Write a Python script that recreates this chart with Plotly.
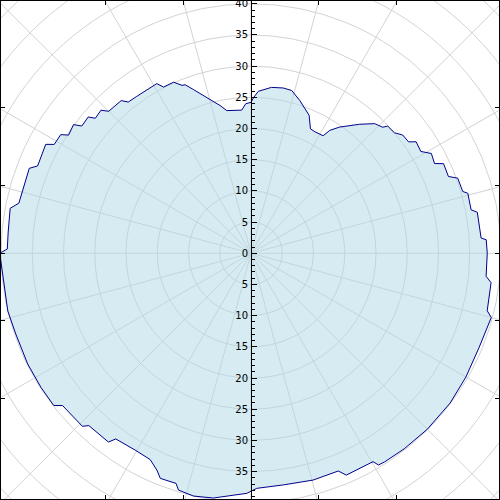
import numpy as np
import plotly.graph_objects as go

# Data: compass angle (degrees, clockwise from north) and radius
theta_deg = [0, 1, 2.6, 7, 11, 14, 17.7, 20.4, 22.8, 25.5, 27.7, 31.5, 32.6, 35, 37.7, 40,
             43.6, 46.2, 47, 49.9, 52, 54.7, 55.9, 59, 61, 63.9, 65, 68.7, 70, 73.7, 74.5,
             78.8, 79.7, 86.2, 86.7, 90, 95.6, 97, 103.7, 105, 112.5, 120, 127, 135, 142,
             147.4, 149, 149.7, 156.8, 158.2, 164.7, 172, 178.6, 181, 184.2, 188.7, 193.3,
             197, 198, 201.9, 203.4, 206, 210.4, 216, 217, 223.2, 224.2, 231, 232.3, 237.4,
             243.6, 251, 256.6, 263.5, 268, 270, 271, 275, 280.6, 281, 282.2, 291, 292.3,
             298, 299, 302, 303, 306, 307, 310, 311, 313.7, 315, 319.7, 321, 324, 327.7,
             331, 332.3, 335.7, 337.7, 338.7, 340.7, 343.3, 345.2, 348.2, 350.4, 356.3, 358]
radius = [24.2, 25.0, 26.0, 26.8, 27.0, 26.9, 25.7, 24.7, 24.0, 22.1, 22.0, 22.1, 23.4, 24.7,
          25.8, 27.0, 28.7, 29.2, 29.9, 30.0, 30.8, 30.9, 31.9, 31.7, 33.0, 32.7, 34.0, 33.9,
          35.2, 35.3, 36.0, 35.9, 36.8, 36.9, 37.7, 37.8, 37.8, 38.7, 38.9, 39.8, 39.5, 39.7,
          39.9, 39.9, 39.8, 39.7, 39.6, 38.7, 38.7, 37.6, 37.7, 37.5, 37.7, 38.5, 38.9, 39.7,
          40.0, 39.7, 38.8, 38.9, 37.9, 36.8, 36.6, 36.8, 37.9, 37.9, 38.7, 38.8, 39.9, 39.9,
          39.9, 39.8, 40.0, 39.8, 40.0, 40.2, 39.0, 39.0, 39.2, 38.9, 38.0, 38.0, 36.9, 37.2,
          36.0, 35.9, 34.8, 35.1, 33.9, 34.0, 33.0, 33.2, 32.2, 32.1, 31.2, 31.1, 31.1, 31.1,
          30.1, 30.1, 29.1, 29.0, 27.8, 26.4, 25.6, 24.2, 23.2, 23.0, 24.0]

radial_ticks = list(range(-40, 45, 5))
radial_ticktext = [str(abs(v)) for v in radial_ticks]
grid_radii = list(range(5, 60, 5))
grid_angles = list(range(0, 360, 15))

X_RANGE = [-40.0, 39.68]
Y_RANGE = [-39.4, 40.45]

th = np.radians(np.array(theta_deg + [theta_deg[0]]))
rr = np.array(radius + [radius[0]])
xs = rr * np.sin(th)
ys = rr * np.cos(th)

fig = go.Figure()
fig.add_trace(go.Scatter(
    x=xs, y=ys, mode="lines", fill="toself",
    fillcolor="rgba(173,216,230,0.5)",
    line=dict(color="#00008b", width=1),
    hoverinfo="skip", showlegend=False,
))
# invisible trace to create the frame y-axis
fig.add_trace(go.Scatter(x=[0], y=[0], yaxis="y2", mode="markers",
                         marker=dict(opacity=0), showlegend=False, hoverinfo="skip"))

grid_color = "#d3d3d3"
shapes = []
for r in grid_radii:
    shapes.append(dict(type="circle", xref="x", yref="y", x0=-r, x1=r, y0=-r, y1=r,
                       line=dict(color=grid_color, width=1), layer="below"))
for a in grid_angles:
    t = np.radians(a)
    shapes.append(dict(type="line", xref="x", yref="y", x0=0, y0=0,
                       x1=60 * np.sin(t), y1=60 * np.cos(t),
                       line=dict(color=grid_color, width=1), layer="below"))

# frame ticks where 15-degree grid lines meet the frame
top = Y_RANGE[1]
frame_ticks = []
for a in [15, 30]:
    v = top * np.tan(np.radians(a))
    frame_ticks += [-v, v]
frame_ticks_y = frame_ticks + [0]

fig.update_layout(
    width=500, height=500,
    margin=dict(l=1, r=1, t=1, b=1, pad=0),
    paper_bgcolor="white", plot_bgcolor="white",
    showlegend=False,
    shapes=shapes,
    font=dict(family="DejaVu Sans", size=10, color="black"),
    xaxis=dict(range=X_RANGE, showgrid=False, zeroline=False, showticklabels=False,
               showline=True, linecolor="black", linewidth=1, mirror="ticks",
               ticks="inside", ticklen=4, tickcolor="black",
               tickvals=frame_ticks, fixedrange=True, automargin=False),
    yaxis=dict(range=Y_RANGE, anchor="free", position=250 / 498, side="left",
               showgrid=False, zeroline=False, showline=True, linecolor="black",
               linewidth=1, ticks="inside", ticklen=5, tickcolor="black",
               tickvals=radial_ticks, ticktext=radial_ticktext,
               minor=dict(dtick=1, tick0=0, ticks="inside", ticklen=3,
                          tickcolor="black", showgrid=False),
               layer="above traces", ticklabelstandoff=1, automargin=False,
               ticklabeloverflow="allow",
               tickfont=dict(family="DejaVu Sans", size=10, color="black")),
    yaxis2=dict(range=Y_RANGE, overlaying="y", anchor="x", side="left",
                showgrid=False, zeroline=False, showticklabels=False,
                showline=True, linecolor="black", linewidth=1, mirror="ticks",
                ticks="inside", ticklen=4, tickcolor="black",
                tickvals=frame_ticks_y, automargin=False),
)

fig.write_html("out.html", config={"displayModeBar": False},
               post_script="document.body.style.margin='0';document.body.style.padding='0';")
